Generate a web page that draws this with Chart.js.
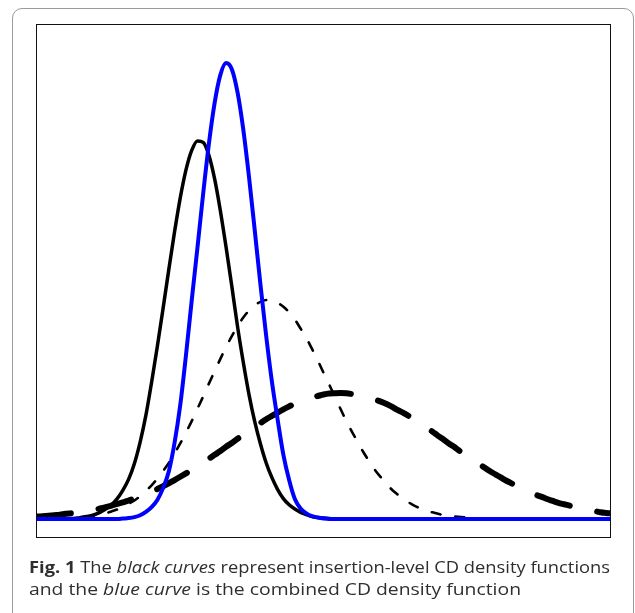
<!DOCTYPE html>
<html>
<head>
<meta charset="utf-8">
<script src="https://cdn.jsdelivr.net/npm/chart.js@4"></script>
<style>
html,body{margin:0;padding:0;background:#fff;}
body{width:635px;height:613px;position:relative;overflow:hidden;}
#frame{position:absolute;left:12px;top:8px;width:622px;height:640px;box-sizing:border-box;border:1.5px solid #9a9a9a;border-radius:10px;}
#plot{position:absolute;left:0;top:0;}
.cap{position:absolute;left:29px;font-family:"Open Sans",sans-serif;font-size:16.5px;line-height:22px;color:#2e2e2e;white-space:nowrap;transform-origin:0 0;}
.cap b{font-weight:700;}
</style>
</head>
<body>
<div id="frame"></div>
<canvas id="plot" width="635" height="613"></canvas>
<div class="cap" id="cap1" style="top:556px"><b>Fig. 1</b> The <i>black curves</i> represent insertion-level CD density functions</div>
<div class="cap" id="cap2" style="top:578px">and the <i>blue curve</i> is the combined CD density function</div>
<script>
// Evaluation grid for the CD densities
const xs = [
  0,0.1,0.2,0.3,0.4,0.5,0.6,0.7,0.8,0.9,
  1,1.1,1.2,1.3,1.4,1.5,1.6,1.7,1.8,1.9,
  2,2.1,2.2,2.3,2.4,2.5,2.6,2.7,2.8,2.9,
  3,3.1,3.2,3.3,3.4,3.5,3.6,3.7,3.8,3.9,
  4,4.1,4.2,4.3,4.4,4.5,4.6,4.7,4.8,4.9,
  5,5.1,5.2,5.3,5.4,5.5,5.6,5.7,5.8,5.9,
  6,6.1,6.2,6.3,6.4,6.5,6.6,6.7,6.8,6.9,
  7,7.1,7.2,7.3,7.4,7.5,7.6,7.7,7.8,7.9,
  8,8.1,8.2,8.3,8.4,8.5,8.6,8.7,8.8,8.9,
  9,9.1,9.2,9.3,9.4,9.5,9.6,9.7,9.8,9.9,
  10
];

// Insertion-level CD density, narrow (solid black)
const cdNarrow = [
  0,0,0,0,0,0,.001,.002,.004,.006,
  .009,.014,.021,.030,.043,.061,.084,.117,.162,.218,
  .288,.363,.443,.525,.604,.676,.735,.776,.796,.793,
  .766,.716,.649,.572,.490,.405,.330,.262,.205,.158,
  .118,.087,.062,.043,.030,.021,.014,.009,.005,.003,
  .002,.001,0,0,0,0,0,0,0,0,
  0,0,0,0,0,0,0,0,0,0,
  0,0,0,0,0,0,0,0,0,0,
  0,0,0,0,0,0,0,0,0,0,
  0,0,0,0,0,0,0,0,0,0,
  0
];

// Insertion-level CD density, medium (thin dashed black)
const cdMedium = [
  0,0,.001,.001,.001,.002,.002,.003,.004,.005,
  .007,.009,.012,.016,.020,.025,.032,.039,.048,.059,
  .071,.085,.101,.118,.138,.159,.182,.206,.232,.258,
  .285,.311,.337,.362,.385,.406,.424,.439,.450,.457,
  .461,.460,.455,.447,.435,.420,.401,.381,.358,.334,
  .308,.283,.257,.231,.206,.183,.161,.140,.121,.103,
  .088,.074,.061,.051,.042,.034,.027,.022,.017,.014,
  .011,.008,.006,.005,.004,.003,.002,.001,.001,.001,
  0,0,0,0,0,0,0,0,0,0,
  0,0,0,0,0,0,0,0,0,0,
  0
];

// Insertion-level CD density, wide (thick dashed black)
const cdWide = [
  .005,.006,.007,.008,.009,.011,.012,.014,.016,.018,
  .020,.022,.025,.028,.032,.035,.039,.043,.048,.053,
  .058,.063,.069,.075,.082,.089,.096,.103,.111,.119,
  .127,.135,.143,.152,.160,.169,.177,.186,.194,.202,
  .210,.217,.224,.231,.237,.243,.248,.252,.256,.259,
  .262,.264,.2647,.2650,.2645,.263,.261,.259,.255,.251,
  .247,.242,.236,.229,.223,.216,.208,.200,.192,.184,
  .175,.167,.158,.150,.141,.133,.125,.117,.109,.101,
  .094,.087,.080,.074,.068,.062,.057,.051,.047,.042,
  .038,.034,.031,.028,.025,.022,.019,.017,.015,.013,
  .012
];

// Combined CD density (blue)
const cdCombined = [
  0,0,0,0,0,0,0,0,0,0,
  0,0,0,0,0,.001,.002,.004,.008,.015,
  .025,.040,.065,.100,.160,.240,.345,.460,.571,.685,
  .790,.876,.935,.960,.947,.898,.820,.720,.608,.493,
  .385,.289,.209,.135,.082,.042,.022,.012,.006,.003,
  .001,0,0,0,0,0,0,0,0,0,
  0,0,0,0,0,0,0,0,0,0,
  0,0,0,0,0,0,0,0,0,0,
  0,0,0,0,0,0,0,0,0,0,
  0,0,0,0,0,0,0,0,0,0,
  0
];

const toPoints = ys => ys.map((y, i) => ({ x: xs[i], y }));

const curve = (data, color, width, dash, order) => ({
  data: toPoints(data),
  borderColor: color,
  borderWidth: width,
  borderDash: dash,
  borderCapStyle: 'round',
  borderJoinStyle: 'round',
  pointRadius: 0,
  fill: false,
  cubicInterpolationMode: 'monotone',
  order
});

// Plot box around the chart area
const boxPlugin = {
  id: 'box',
  afterDraw(chart) {
    const { ctx, chartArea: a } = chart;
    ctx.save();
    ctx.strokeStyle = '#111';
    ctx.lineWidth = 1;
    ctx.strokeRect(a.left - 0.5, a.top - 0.5, a.right - a.left + 1, a.bottom - a.top + 1);
    ctx.restore();
  }
};

new Chart(document.getElementById('plot'), {
  type: 'line',
  data: {
    datasets: [
      curve(cdCombined, '#0000ff', 4, [], 0),
      curve(cdNarrow, '#000', 3.5, [], 1),
      curve(cdMedium, '#000', 2.6, [9, 15], 2),
      curve(cdWide, '#000', 6, [34, 28], 3)
    ]
  },
  options: {
    responsive: false,
    animation: false,
    events: [],
    layout: { padding: { left: 37, top: 25, right: 25, bottom: 76 } },
    plugins: { legend: { display: false }, tooltip: { enabled: false } },
    scales: {
      x: { type: 'linear', min: 0, max: 10, display: false },
      y: { type: 'linear', min: -0.0379, max: 1.04, display: false }
    }
  },
  plugins: [boxPlugin]
});

// Fit each caption line to its set width
[['cap1', 581], ['cap2', 492]].forEach(([id, w]) => {
  const el = document.getElementById(id);
  el.style.transform = 'scaleX(' + (w / el.getBoundingClientRect().width) + ')';
});
</script>
</body>
</html>
